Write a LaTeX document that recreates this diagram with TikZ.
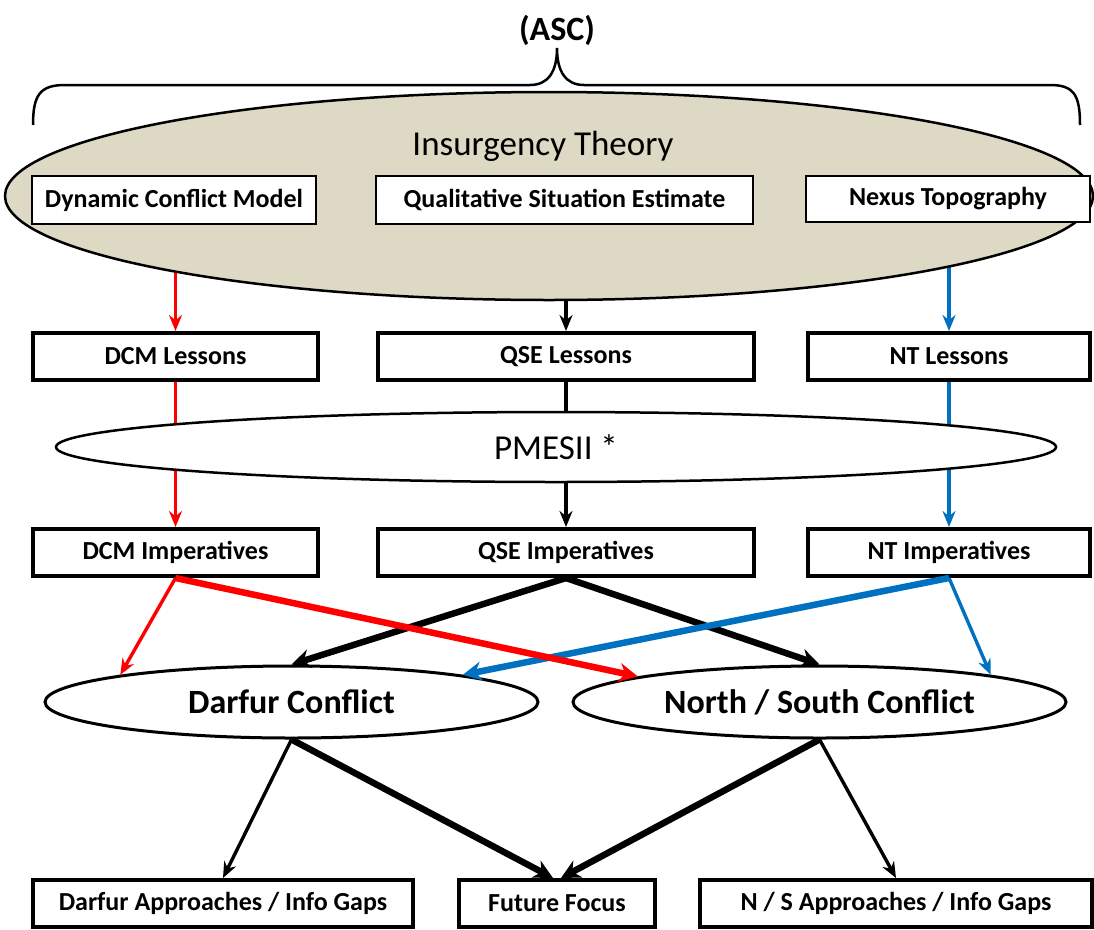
\documentclass[tikz,border=0pt]{standalone}
\usepackage{fontspec}
\setmainfont{Carlito}
\usetikzlibrary{arrows.meta,shapes.geometric}
\definecolor{theory-tan}{HTML}{DDD9C4}
\definecolor{nt-blue}{HTML}{0070C0}
\pgfdeclarelayer{background}
\pgfsetlayers{background,main}
\tikzset{
    model-box/.style = {draw, fill=white, line width=1.8pt, rectangle, inner sep=0pt, font=\fontsize{26}{30}\selectfont\bfseries},
    step-box/.style = {draw, fill=white, line width=4pt, rectangle, inner sep=0pt, minimum height=47pt, font=\fontsize{26}{30}\selectfont\bfseries},
    theory-ellipse/.style = {draw, ellipse, inner sep=0pt, line width=2.5pt},
    conflict-ellipse/.style = {draw, fill=white, ellipse, inner sep=0pt, line width=3pt, minimum width=493pt, minimum height=72pt, font=\fontsize{34}{40}\selectfont\bfseries},
    thin-arrow/.style = {line width=3.4pt, -{Stealth[length=16pt,width=13pt]}},
    thick-arrow/.style = {line width=6.5pt, -{Stealth[length=19pt,width=19pt]}},
}

\begin{document}
\begin{tikzpicture}[x=1pt, y=-1pt]
\useasboundingbox (0,0) rectangle (1094,929);

% brace and ASC
\coordinate (brace-tip) at (557,48);
\draw[line width=2.5pt] (33,125) .. controls (33,95) and (40,85) .. (65,85) -- (530,85)
    .. controls (548,85) and (557,72) .. (brace-tip)
    .. controls (557,72) and (566,85) .. (584,85) -- (1050,85)
    .. controls (1074,85) and (1080,95) .. (1080,125);
\node[font=\fontsize{34}{40}\selectfont\bfseries] (asc) at (557,30) {(ASC)};

% insurgency theory
\node[theory-ellipse, fill=theory-tan, minimum width=1088pt, minimum height=208pt] (insurgency) at (549,196) {};
\node[font=\fontsize{35}{42}\selectfont] (insurgency-title) at (543,146) {Insurgency Theory};
\node[model-box, minimum width=284pt, minimum height=48pt] (dcm-model) at (174,200) {Dynamic Conflict Model};
\node[model-box, minimum width=377pt, minimum height=48pt] (qse-model) at (564.5,200) {Qualitative Situation Estimate};
\node[model-box, minimum width=284pt, minimum height=46pt] (nt-model) at (948,199) {Nexus Topography};

% lessons
\node[step-box, minimum width=285pt] (dcm-lessons) at (175.5,356.5) {DCM Lessons};
\node[step-box, minimum width=376pt] (qse-lessons) at (566,356.5) {QSE Lessons};
\node[step-box, minimum width=282pt] (nt-lessons) at (949,356.5) {NT Lessons};

% PMESII
\node[theory-ellipse, fill=white, minimum width=1000pt, minimum height=70pt, font=\fontsize{35}{42}\selectfont] (pmesii) at (556,447) {PMESII *};

% imperatives
\node[step-box, minimum width=285pt] (dcm-imp) at (175.5,552.5) {DCM Imperatives};
\node[step-box, minimum width=376pt] (qse-imp) at (566,552.5) {QSE Imperatives};
\node[step-box, minimum width=282pt] (nt-imp) at (949,552.5) {NT Imperatives};

% conflicts
\node[conflict-ellipse] (darfur) at (291.5,702) {Darfur Conflict};
\node[conflict-ellipse] (north-south) at (819.5,702) {North / South Conflict};

% outcomes
\node[step-box, minimum width=380pt] (darfur-gaps) at (223,903.5) {Darfur Approaches / Info Gaps};
\node[step-box, minimum width=196pt] (future) at (557,903.5) {Future Focus};
\node[step-box, minimum width=392pt] (ns-gaps) at (896,903.5) {N / S Approaches / Info Gaps};

\begin{pgfonlayer}{background}
\draw[thin-arrow, red] (dcm-lessons.north |- dcm-model.south) -- (dcm-lessons.north);
\draw[thin-arrow] (qse-lessons.north |- qse-model.south) -- (qse-lessons.north);
\draw[thin-arrow, nt-blue] (nt-lessons.north |- nt-model.south) -- (nt-lessons.north);
\draw[thin-arrow, red] (dcm-lessons) -- (dcm-imp);
\draw[thin-arrow] (qse-lessons) -- (qse-imp);
\draw[thin-arrow, nt-blue] (nt-lessons) -- (nt-imp);
\end{pgfonlayer}

% imperatives to conflicts
\draw[thick-arrow] (qse-imp.south) -- (darfur.north);
\draw[thick-arrow] (qse-imp.south) -- (north-south.north);
\draw[thick-arrow, nt-blue] (nt-imp.south) -- (darfur.9);
\draw[thin-arrow, nt-blue] (nt-imp.south) -- (north-south.9);
\draw[thin-arrow, red] (dcm-imp.south) -- (darfur.171);
\draw[thick-arrow, red] (dcm-imp.south) -- (north-south.172);

% conflicts to outcomes
\draw[thin-arrow] (darfur.south) -- (darfur-gaps.north);
\draw[thick-arrow] (darfur.south) -- ([xshift=-4pt]future.north);
\draw[thick-arrow] (north-south.south) -- ([xshift=4pt]future.north);
\draw[thin-arrow] (north-south.south) -- (ns-gaps.north);
\end{tikzpicture}
\end{document}
